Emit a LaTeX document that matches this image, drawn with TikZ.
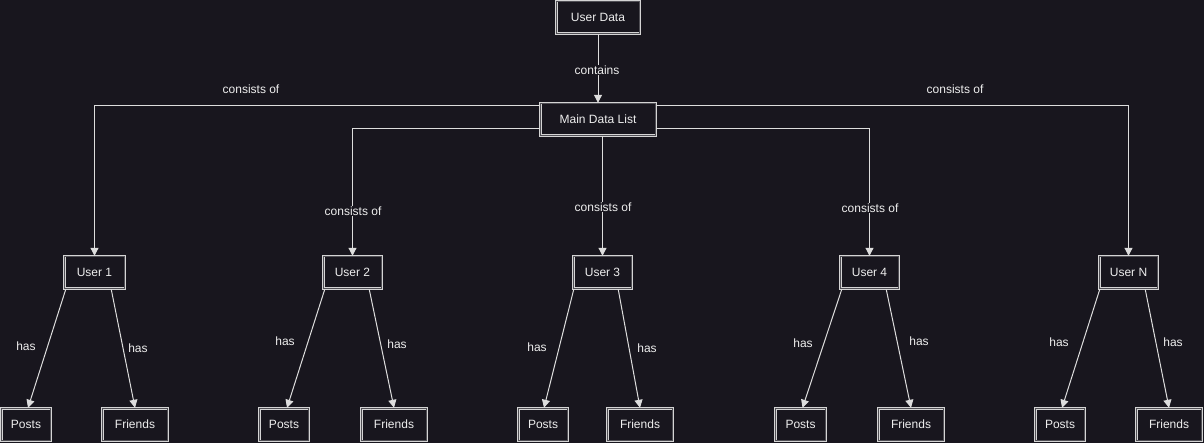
\documentclass[tikz,border=0pt]{standalone}
\usepackage{fontspec}
\setmainfont{Liberation Sans}
\usetikzlibrary{arrows.meta,calc}
\definecolor{bg}{HTML}{18161E}
\definecolor{boxc}{HTML}{D4D4D4}
\definecolor{linec}{HTML}{DDDDDD}
\definecolor{txtc}{HTML}{EEEEEE}
\begin{document}
\begin{tikzpicture}[x=1pt,y=-1pt,
  box/.style={draw=boxc, double=bg!70!boxc, double distance=0.7pt, line width=0.9pt,
    inner sep=0pt, text=txtc, font=\fontsize{12}{14}\selectfont},
  conn/.style={draw=linec, line width=1pt, -{Triangle[width=8pt,length=8pt]}},
  lbl/.style={text=txtc, font=\fontsize{12}{14}\selectfont, inner sep=1pt},
  lblbg/.style={lbl, fill=bg}]
\fill[bg] (0,0) rectangle (1204,443);
\useasboundingbox (0,0) rectangle (1204,443);
\newcommand{\bx}[5]{\node[box, minimum width=#3pt-2.5pt, minimum height=#4pt-2.5pt] (#1) at #2 {#5};}
\bx{ud}{(598,17.5)}{86}{35}{User Data}
\bx{main}{(598,119.5)}{118}{35}{Main Data List}
\bx{u1}{(94.5,272.5)}{63}{35}{User 1}
\bx{u2}{(352.5,272.5)}{61}{35}{User 2}
\bx{u3}{(602.5,272.5)}{61}{35}{User 3}
\bx{u4}{(869.5,272.5)}{61}{35}{User 4}
\bx{uN}{(1128.5,272.5)}{61}{35}{User N}
\bx{p1}{(26,424.5)}{52}{35}{Posts}
\bx{f1}{(135,424.5)}{68}{35}{Friends}
\bx{p2}{(284,424.5)}{52}{35}{Posts}
\bx{f2}{(394,424.5)}{68}{35}{Friends}
\bx{p3}{(543,424.5)}{52}{35}{Posts}
\bx{f3}{(640,424.5)}{68}{35}{Friends}
\bx{p4}{(800.5,424.5)}{53}{35}{Posts}
\bx{f4}{(911,424.5)}{68}{35}{Friends}
\bx{pN}{(1060,424.5)}{52}{35}{Posts}
\bx{fN}{(1169,424.5)}{68}{35}{Friends}

% User Data -> Main
\draw[conn] (ud) -- (main) node[lblbg] at (597,70) {contains};
% Main -> users
\draw[conn] ($(main.north west)+(0,3)$) -| (u1) node[lbl] at (251,89) {consists of};
\draw[conn] ($(main.north east)+(0,3)$) -| (uN) node[lbl] at (955,89) {consists of};
\draw[conn] ($(main.south west)+(0,-8)$) -| (u2) node[lblbg] at (353,211) {consists of};
\draw[conn] ($(main.south east)+(0,-8)$) -| (u4) node[lblbg] at (870,208) {consists of};
\draw[conn] (main.south -| u3) -- (u3) node[lblbg] at (603,207) {consists of};
% Users -> posts / friends
\draw[conn] ($(u1.south west)+(2,0)$) -- ($(p1.north)+(2,0)$) node[lbl] at (26,346) {has};
\draw[conn] ($(u1.south east)+(-14,0)$) -- (f1.north) node[lbl] at (138,348) {has};
\draw[conn] ($(u2.south west)+(2,0)$) -- ($(p2.north)+(3,0)$) node[lbl] at (285,341) {has};
\draw[conn] ($(u2.south east)+(-13,0)$) -- (f2.north) node[lbl] at (397,344) {has};
\draw[conn] ($(u3.south west)+(1,0)$) -- ($(p3.north)+(1,0)$) node[lbl] at (537,347) {has};
\draw[conn] ($(u3.south east)+(-14,0)$) -- (f3.north) node[lbl] at (647,348) {has};
\draw[conn] ($(u4.south west)+(2,0)$) -- ($(p4.north)+(2,0)$) node[lbl] at (803,343) {has};
\draw[conn] ($(u4.south east)+(-13,0)$) -- (f4.north) node[lbl] at (919,341) {has};
\draw[conn] ($(uN.south west)+(1,0)$) -- ($(pN.north)+(2,0)$) node[lbl] at (1059,342) {has};
\draw[conn] ($(uN.south east)+(-13,0)$) -- (fN.north) node[lbl] at (1173,342) {has};
\end{tikzpicture}
\end{document}
